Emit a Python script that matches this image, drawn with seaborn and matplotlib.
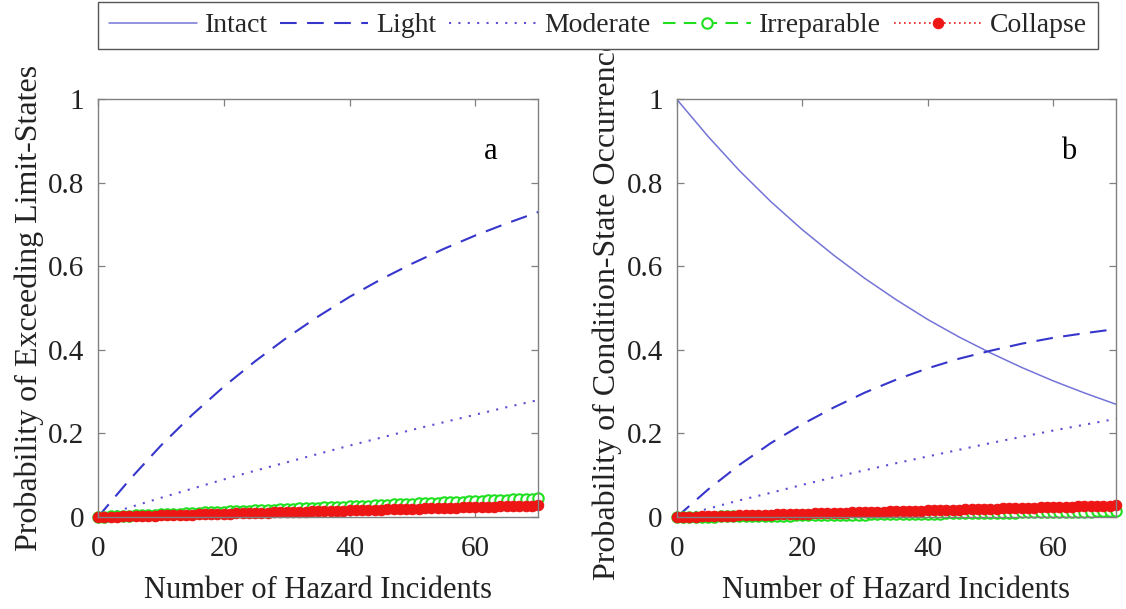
import matplotlib
matplotlib.use("Agg")
import matplotlib.pyplot as plt
import numpy as np
import pandas as pd
import seaborn as sns

# ---------------- data ----------------
incidents_curve = [0, 5, 10, 15, 20, 25, 30, 35, 40, 45, 50, 55, 60, 65, 70]
incidents = list(range(71))

# panel a: probability of exceeding limit-states
light_exceed = [0.000, 0.089, 0.171, 0.245, 0.312, 0.373, 0.429, 0.480,
                0.527, 0.569, 0.607, 0.642, 0.674, 0.703, 0.730]
moderate_exceed = [0.000, 0.023, 0.046, 0.068, 0.090, 0.111, 0.131, 0.151,
                   0.171, 0.190, 0.209, 0.227, 0.245, 0.263, 0.280]
irreparable_exceed = [
    0.0000, 0.0006, 0.0013, 0.0019, 0.0026, 0.0032, 0.0038, 0.0045, 0.0051, 0.0058,
    0.0064, 0.0070, 0.0077, 0.0083, 0.0090, 0.0096, 0.0102, 0.0109, 0.0115, 0.0122,
    0.0128, 0.0134, 0.0141, 0.0147, 0.0154, 0.0160, 0.0166, 0.0173, 0.0179, 0.0186,
    0.0192, 0.0198, 0.0205, 0.0211, 0.0218, 0.0224, 0.0230, 0.0237, 0.0243, 0.0250,
    0.0256, 0.0262, 0.0269, 0.0275, 0.0282, 0.0288, 0.0294, 0.0301, 0.0307, 0.0314,
    0.0320, 0.0326, 0.0333, 0.0339, 0.0346, 0.0352, 0.0358, 0.0365, 0.0371, 0.0378,
    0.0384, 0.0390, 0.0397, 0.0403, 0.0410, 0.0416, 0.0422, 0.0429, 0.0435, 0.0442,
    0.0448]
collapse_exceed = [
    0.0000, 0.0004, 0.0008, 0.0012, 0.0016, 0.0020, 0.0024, 0.0028, 0.0032, 0.0036,
    0.0040, 0.0044, 0.0048, 0.0052, 0.0056, 0.0060, 0.0064, 0.0068, 0.0072, 0.0076,
    0.0080, 0.0084, 0.0088, 0.0092, 0.0096, 0.0100, 0.0104, 0.0108, 0.0112, 0.0116,
    0.0120, 0.0124, 0.0128, 0.0132, 0.0136, 0.0140, 0.0144, 0.0148, 0.0152, 0.0156,
    0.0160, 0.0164, 0.0168, 0.0172, 0.0176, 0.0180, 0.0184, 0.0188, 0.0192, 0.0196,
    0.0200, 0.0204, 0.0208, 0.0212, 0.0216, 0.0220, 0.0224, 0.0228, 0.0232, 0.0236,
    0.0240, 0.0244, 0.0248, 0.0252, 0.0256, 0.0260, 0.0264, 0.0268, 0.0272, 0.0276,
    0.0280]

# panel b: probability of condition-state occurrence
intact_state = [1.000, 0.911, 0.829, 0.755, 0.688, 0.627, 0.571, 0.520,
                0.473, 0.431, 0.393, 0.358, 0.326, 0.297, 0.270]
light_state = [0.000, 0.066, 0.125, 0.177, 0.222, 0.262, 0.298, 0.329,
               0.356, 0.379, 0.398, 0.415, 0.429, 0.440, 0.450]
moderate_state = [0.000, 0.020, 0.040, 0.058, 0.077, 0.095, 0.112, 0.129,
                  0.145, 0.161, 0.177, 0.192, 0.207, 0.221, 0.235]
irreparable_state = [
    0.0000, 0.0002, 0.0004, 0.0006, 0.0008, 0.0010, 0.0012, 0.0014, 0.0016, 0.0018,
    0.0020, 0.0022, 0.0024, 0.0026, 0.0028, 0.0030, 0.0032, 0.0034, 0.0036, 0.0038,
    0.0040, 0.0042, 0.0044, 0.0046, 0.0048, 0.0050, 0.0052, 0.0054, 0.0056, 0.0058,
    0.0060, 0.0062, 0.0064, 0.0066, 0.0068, 0.0070, 0.0072, 0.0074, 0.0076, 0.0078,
    0.0080, 0.0082, 0.0084, 0.0086, 0.0088, 0.0090, 0.0092, 0.0094, 0.0096, 0.0098,
    0.0100, 0.0102, 0.0104, 0.0106, 0.0108, 0.0110, 0.0112, 0.0114, 0.0116, 0.0118,
    0.0120, 0.0122, 0.0124, 0.0126, 0.0128, 0.0130, 0.0132, 0.0134, 0.0136, 0.0138,
    0.0140]
collapse_state = list(collapse_exceed)

x_ticks = [0, 20, 40, 60]
y_ticks = [0, 0.2, 0.4, 0.6, 0.8, 1.0]
y_tick_labels = ["0", "0.2", "0.4", "0.6", "0.8", "1"]
legend_labels = ["Intact", "Light", "Moderate", "Irreparable", "Collapse"]

# ---------------- styling ----------------
sns.set_theme(style="white")
plt.rcParams["font.family"] = ["Liberation Serif", "DejaVu Serif"]

C_INTACT = "#7474d8"
C_LIGHT = "#3636cc"
C_MOD = "#5a50d4"
C_GREEN = "#1ee01e"
C_RED = "#ee1515"
SPINE = "#808080"
TXT = "#222222"

fig = plt.figure(figsize=(11.26, 6.09), dpi=100)
ax_a = fig.add_axes([0.087, 0.151, 0.391, 0.686])
ax_b = fig.add_axes([0.601, 0.151, 0.390, 0.686])

dash_light = (0, (8, 5))
dot_mod = (0, (1, 3.5))


def draw_intact(ax, y):
    sns.lineplot(x=incidents_curve, y=y, ax=ax, color=C_INTACT, lw=1.1,
                 linestyle="-", label=legend_labels[0])


def draw_light(ax, y):
    sns.lineplot(x=incidents_curve, y=y, ax=ax, color=C_LIGHT, lw=1.5,
                 linestyle=dash_light, label=legend_labels[1])


def draw_mod(ax, y):
    sns.lineplot(x=incidents_curve, y=y, ax=ax, color=C_MOD, lw=1.5,
                 linestyle=dot_mod, label=legend_labels[2])


def draw_irr(ax, y):
    sns.lineplot(x=incidents, y=y, ax=ax, color=C_GREEN, lw=1.5,
                 linestyle=(0, (6, 4)), marker="o", markersize=7.5,
                 markerfacecolor="white", markeredgecolor=C_GREEN,
                 markeredgewidth=1.5, clip_on=False, label=legend_labels[3])


def draw_col(ax, y):
    sns.lineplot(x=incidents, y=y, ax=ax, color=C_RED, lw=1.2,
                 linestyle=(0, (1, 2)), marker="o", markersize=7.5,
                 markerfacecolor=C_RED, markeredgecolor=C_RED,
                 markeredgewidth=0.8, clip_on=False, label=legend_labels[4])


# panel a
draw_light(ax_a, light_exceed)
draw_mod(ax_a, moderate_exceed)
draw_irr(ax_a, irreparable_exceed)
draw_col(ax_a, collapse_exceed)

# panel b
draw_intact(ax_b, intact_state)
draw_light(ax_b, light_state)
draw_mod(ax_b, moderate_state)
draw_irr(ax_b, irreparable_state)
draw_col(ax_b, collapse_state)

ylabels = ["Probability of Exceeding Limit-States",
           "Probability of Condition-State Occurrence"]
tags = ["a", "b"]
for ax, yl, tag in zip([ax_a, ax_b], ylabels, tags):
    ax.set_xlim(0, 70)
    ax.set_ylim(0, 1)
    ax.set_xticks(x_ticks)
    ax.set_yticks(y_ticks)
    ax.set_yticklabels(y_tick_labels)
    ax.tick_params(direction="in", length=5, width=0.9, color=SPINE,
                   top=True, right=True, bottom=True, left=True,
                   labelsize=21, labelcolor=TXT)
    ax.tick_params(axis="x", pad=14)
    ax.tick_params(axis="y", pad=10)
    for s in ax.spines.values():
        s.set_color(SPINE)
        s.set_linewidth(1.0)
        s.set_visible(True)
    ax.set_xlabel("Number of Hazard Incidents", fontsize=22, color=TXT, labelpad=10)
    ax.set_ylabel(yl, fontsize=23, color=TXT, labelpad=3)
    ax.text(62.4, 0.875, tag, fontsize=22, color="black", ha="center", va="center")
    ax.set_facecolor("white")
    leg = ax.get_legend()
    if leg is not None:
        leg.remove()

handles, labels = ax_b.get_legend_handles_labels()
fig.legend(handles, labels, loc="upper center", bbox_to_anchor=(0.531, 0.997),
           borderaxespad=0, ncol=5, frameon=True, fancybox=False,
           edgecolor="#555555", facecolor="white", framealpha=1, fontsize=20,
           handlelength=3.15, handletextpad=0.3, columnspacing=0.45,
           borderpad=0.4, numpoints=1)

fig.savefig("out.png", dpi=100, facecolor="white")
